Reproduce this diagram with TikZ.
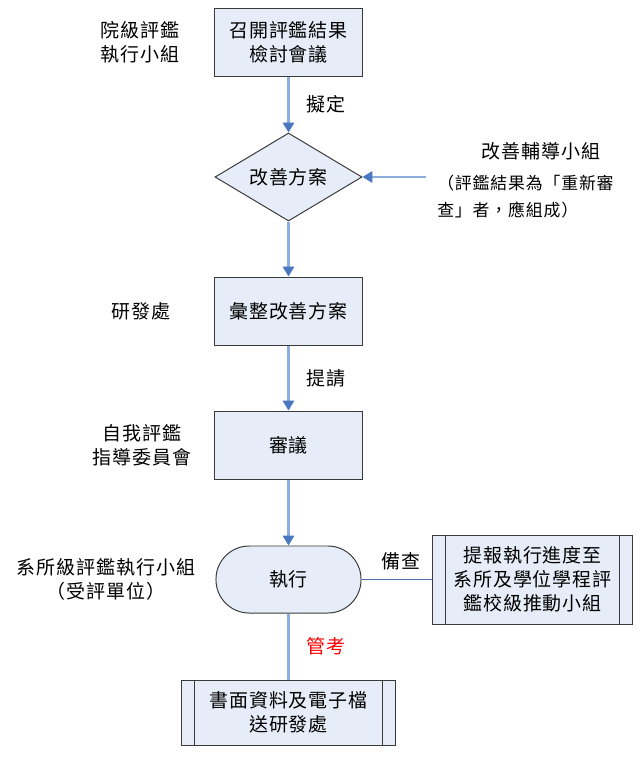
\documentclass[tikz,border=0pt]{standalone}
\usepackage{fontspec}
\setmainfont[LetterSpace=5]{Noto Sans CJK TC}
\usetikzlibrary{shapes.geometric,arrows.meta}
\definecolor{boxfill}{HTML}{E7EDF8}
\definecolor{boxdraw}{HTML}{3A3A3A}
\definecolor{flowline}{HTML}{8DADDD}
\definecolor{flowhead}{HTML}{4A78C0}
\definecolor{sideline}{HTML}{4A6FA8}

\begin{document}
\begin{tikzpicture}[x=0.025cm,y=-0.025cm,
    font=\fontsize{13.5pt}{17pt}\selectfont,
    box/.style={draw=boxdraw,fill=boxfill,line width=0.7pt,minimum width=3.675cm,minimum height=1.7cm,align=center,inner sep=0pt},
    procbox/.style={box,path picture={
        \draw[boxdraw,line width=0.7pt] ([xshift=0.31cm]path picture bounding box.north west) -- ([xshift=0.31cm]path picture bounding box.south west);
        \draw[boxdraw,line width=0.7pt] ([xshift=-0.31cm]path picture bounding box.north east) -- ([xshift=-0.31cm]path picture bounding box.south east);}},
    decide/.style={box,diamond,aspect=1.67,minimum width=3.675cm,minimum height=2.2cm},
    terminal/.style={box,rounded corners=0.83cm,minimum width=3.625cm,minimum height=1.675cm},
    flow/.style={flowline,line width=1.6pt,-{Triangle[length=7pt,width=8pt,fill=flowhead,color=flowhead]}},
    note/.style={align=center,inner sep=0pt,text=black}]
    \useasboundingbox (0,0) rectangle (644,764);

    % steps
    \node[box] (meeting) at (288.5,42) {召開評鑑結果\\檢討會議};
    \node[decide] (plan) at (288.5,177) {改善方案};
    \node[box] (collect) at (288.5,311) {彙整改善方案};
    \node[box] (council) at (288.5,445) {審議};
    \node[terminal] (execute) at (288.5,579.5) {執行};
    \node[procbox,minimum width=4.975cm,minimum height=2.225cm] (report) at (532.5,579.5) {提報執行進度至\\系所及學位學程評\\鑑校級推動小組};
    \node[procbox,minimum width=5.325cm,minimum height=1.625cm] (submit) at (288.5,712.5) {書面資料及電子檔\\送研發處};

    % units on the left
    \node[note] (college) at (140,42) {院級評鑑\\執行小組};
    \node[note] (rdoffice) at (141,311) {研發處};
    \node[note] (committee) at (142,445) {自我評鑑\\指導委員會};
    \node[note] (dept) at (106,579) {系所級評鑑執行小組\\（受評單位）};

    % counselling group on the right
    \node[note] (coach) at (541,151) {改善輔導小組};
    \node[note,align=left,font=\fontsize{12pt}{19pt}\selectfont,anchor=north west] (coachnote) at (437,175) {（評鑑結果為「重新審\\查」者，應組成）};
    \coordinate (coachin) at (426,177);

    % connectors
    \draw[flow] (meeting) -- (plan) node[note,midway,right=12pt] {擬定};
    \draw[flow] (plan) -- (collect);
    \draw[flow] (collect) -- (council) node[note,midway,right=12pt] {提請};
    \draw[flow] (council) -- (execute);
    \draw[flow] (coachin) -- (plan.east);
    \draw[sideline,line width=0.8pt] (execute) -- (report) node[note,pos=0.55,above=6pt] {備查};
    \draw[flowline,line width=1.6pt] (execute) -- (submit) node[note,midway,right=12pt,text=red] {管考};
\end{tikzpicture}
\end{document}
